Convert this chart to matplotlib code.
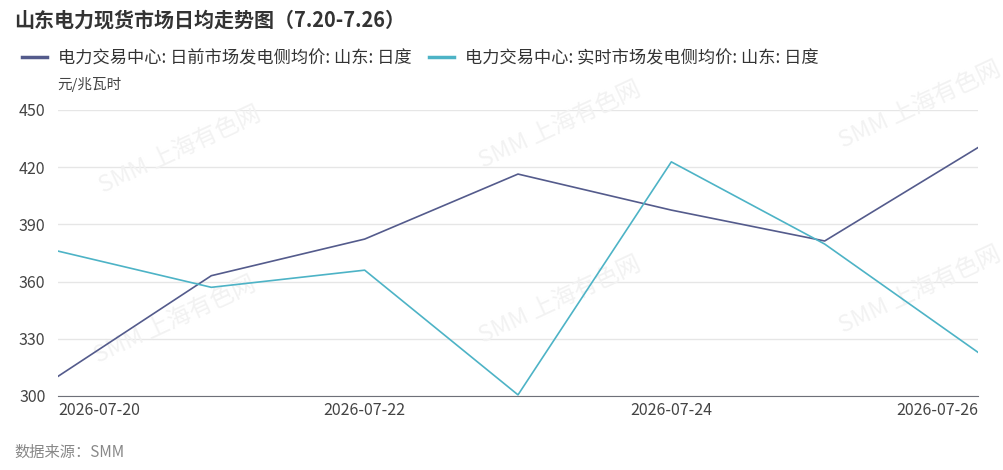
import matplotlib
matplotlib.use('Agg')
import matplotlib.pyplot as plt
import pandas as pd

plt.rcParams['font.family'] = ['Noto Sans CJK SC', 'DejaVu Sans']

# 数据
dates = pd.to_datetime(['2026-07-20', '2026-07-21', '2026-07-22', '2026-07-23',
                        '2026-07-24', '2026-07-25', '2026-07-26'])
day_ahead = [310.3, 363.1, 382.3, 416.4, 397.5, 381.3, 430.3]
real_time = [376.0, 357.0, 366.0, 300.6, 422.8, 379.7, 322.9]
tick_dates = pd.to_datetime(['2026-07-20', '2026-07-22', '2026-07-24', '2026-07-26'])
tick_labels = ['2026-07-20', '2026-07-22', '2026-07-24', '2026-07-26']
y_ticks = [300, 330, 360, 390, 420, 450]

label_da = '电力交易中心: 日前市场发电侧均价: 山东: 日度'
label_rt = '电力交易中心: 实时市场发电侧均价: 山东: 日度'
c_da = '#545b8c'
c_rt = '#4db3c6'

fig = plt.figure(figsize=(10.04, 4.70), dpi=100)
ax = fig.add_axes([58 / 1004, 1 - 396 / 470, 920 / 1004, 286 / 470])

ax.plot(dates, day_ahead, color=c_da, lw=1.2, zorder=3)
ax.plot(dates, real_time, color=c_rt, lw=1.2, zorder=3)

ax.set_xlim(dates[0], dates[-1])
ax.set_ylim(300, 450)
ax.set_yticks(y_ticks)
ax.set_xticks(tick_dates)
ax.set_xticklabels(tick_labels)
ax.grid(axis='y', color='#e6e6e6', lw=1, zorder=0)
ax.set_axisbelow(True)
for s in ['top', 'right', 'left']:
    ax.spines[s].set_visible(False)
ax.spines['bottom'].set_color('#6e7079')
ax.tick_params(axis='both', length=0, labelsize=11.5, colors='#444444')
ax.tick_params(axis='x', pad=4)
ax.tick_params(axis='y', pad=9)
for lbl in ax.get_xticklabels():
    lbl.set_horizontalalignment('center')
ax.get_xticklabels()[0].set_horizontalalignment('left')
ax.get_xticklabels()[-1].set_horizontalalignment('right')

# 水印
for (wx, wy) in [(180, 150), (560, 125), (920, 105), (175, 320), (560, 300), (920, 290)]:
    ax.text(wx / 1004, 1 - wy / 470, 'SMM 上海有色网', fontsize=17, color='#f2f2f2',
            rotation=25, ha='center', va='center', zorder=1, transform=fig.transFigure)

# 标题
fig.text(14 / 1004, 1 - 20 / 470, '山东电力现货市场日均走势图（7.20-7.26）', fontsize=14.4,
         fontweight='bold', color='#333333', va='center')

# 图例
fig.legend(handles=[plt.Line2D([], [], color=c_da, lw=2.5, label=label_da),
                    plt.Line2D([], [], color=c_rt, lw=2.5, label=label_rt)],
           loc='center left', bbox_to_anchor=(6 / 1004, 1 - 58 / 470), ncol=2, frameon=False,
           fontsize=12.4, handlelength=1.5, handletextpad=0.6, columnspacing=1.0,
           labelcolor='#333333')

fig.text(57 / 1004, 1 - 84 / 470, '元/兆瓦时', fontsize=10.5, color='#444444', va='center')
fig.text(14 / 1004, 1 - 452 / 470, '数据来源：SMM', fontsize=11, color='#888888',
         style='italic', va='center')

fig.savefig('out.png', dpi=100)
